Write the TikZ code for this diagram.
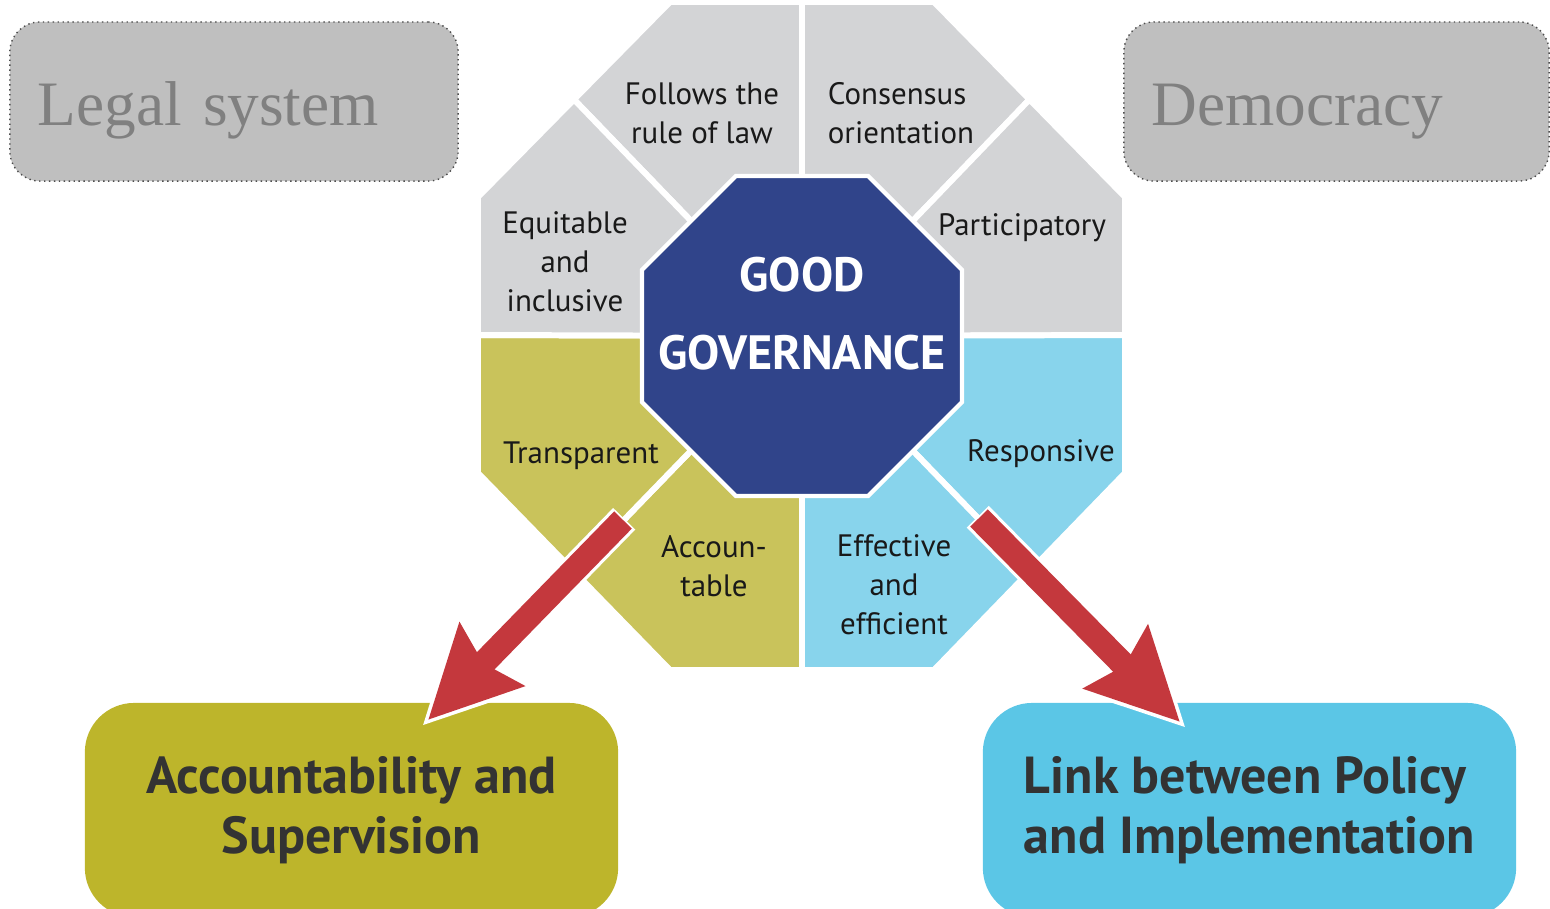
\documentclass[tikz,border=0pt]{standalone}
\usepackage{fontspec}
\setmainfont{Liberation Serif}
\setsansfont{PT Sans}
\usetikzlibrary{arrows.meta,shapes.geometric,positioning}
\definecolor{grey1}{HTML}{D3D4D6}
\definecolor{olive1}{HTML}{C9C35B}
\definecolor{sky1}{HTML}{88D4EC}
\definecolor{navy1}{HTML}{30448A}
\definecolor{olive2}{HTML}{BDB52B}
\definecolor{sky2}{HTML}{5BC6E6}
\definecolor{red1}{HTML}{C4383D}
\definecolor{boxgrey}{HTML}{BFBFBF}
\definecolor{textgrey}{HTML}{808080}
\definecolor{dark1}{HTML}{333333}
\begin{document}
\begin{tikzpicture}
[x=0.01cm, y=-0.01cm,
slice/.style={draw=white, line width=1.7pt, line join=round},
seclabel/.style={font=\sffamily\fontsize{8.8}{11.1}\selectfont, text=black!90,
align=center, inner sep=0},
core/.style={regular polygon, regular polygon sides=8, minimum size=3.46cm,
fill=navy1, draw=white, line width=1.2pt, inner sep=0},
corelabel/.style={font=\sffamily\bfseries\fontsize{13.7}{22.2}\selectfont,
text=white, align=center, inner sep=0},
field/.style={rounded corners=8.5pt, fill=boxgrey, draw=black!70, densely dotted,
line width=0.4pt, minimum height=1.59cm, inner xsep=0.28cm, align=left,
text height=17.3pt, text depth=3.9pt,
font=\rmfamily\fontsize{18}{21}\selectfont, text=textgrey},
goal/.style={rounded corners=14pt, minimum width=5.33cm, minimum height=2.14cm,
font=\sffamily\bfseries\fontsize{14.8}{17}\selectfont, text=dark1},
bigarrow/.style={line width=7pt, red1, -{Stealth[length=25.6pt, width=24.8pt, inset=3.1pt]}},
bigarrowedge/.style={line width=8.8pt, white, shorten >=-2.2pt, shorten <=-0.5pt,
-{Stealth[length=30pt, width=29.5pt, inset=3.6pt]}}]
\useasboundingbox (0,0) rectangle (1550,908);
\clip (0,0) rectangle (1550,908);
%\fill[white] (0,0) rectangle (1550,908);
\coordinate (c)  at (802,336);
\coordinate (o1) at (670,2);     \coordinate (m1) at (802,2);
\coordinate (o2) at (934,2);     \coordinate (m2) at (1029.5,99.5);
\coordinate (o3) at (1125,197);  \coordinate (m3) at (1125,335);
\coordinate (o4) at (1125,473);  \coordinate (m4) at (1029.5,571.5);
\coordinate (o5) at (934,670);   \coordinate (m5) at (802,670);
\coordinate (o6) at (670,670);   \coordinate (m6) at (574,571.5);
\coordinate (o7) at (478,473);   \coordinate (m7) at (478,335);
\coordinate (o8) at (478,197);   \coordinate (m8) at (574,99.5);

\path [slice, fill=grey1]  (c) -- (m8) -- (o1) -- (m1) -- cycle;
\path [slice, fill=grey1]  (c) -- (m1) -- (o2) -- (m2) -- cycle;
\path [slice, fill=grey1]  (c) -- (m2) -- (o3) -- (m3) -- cycle;
\path [slice, fill=sky1]   (c) -- (m3) -- (o4) -- (m4) -- cycle;
\path [slice, fill=sky1]   (c) -- (m4) -- (o5) -- (m5) -- cycle;
\path [slice, fill=olive1] (c) -- (m5) -- (o6) -- (m6) -- cycle;
\path [slice, fill=olive1] (c) -- (m6) -- (o7) -- (m7) -- cycle;
\path [slice, fill=grey1]  (c) -- (m7) -- (o8) -- (m8) -- cycle;

\node [seclabel]             (rule)    at (702,113)     {Follows the\\rule of law};
\node [seclabel, align=left] (cons)    at (901,113)     {Consensus\\orientation};
\node [seclabel]             (part)    at (1022,228)    {Participatory};
\node [seclabel]             (equi)    at (565,262)     {Equitable\\and\\inclusive};
\node [seclabel]             (transp)  at (581,456)     {Transparent};
\node [seclabel]             (resp)    at (1041,454)    {Responsive};
\node [seclabel]             (acct)    at (714,566)     {Accoun-\\table};
\node [seclabel]             (eff)     at (894,585)     {Effective\\and\\efficient};

\node [core]                 (gg)      at (c)           {};
\node [corelabel]            (ggtext)  at (802,314)     {GOOD\\GOVERNANCE};

\node [field, text width=3.92cm, minimum width=4.48cm]  (legal) at (234,101.5)  {Legal system};
\node [field, text width=3.69cm, minimum width=4.25cm]  (demo)  at (1336.5,101.5) {Democracy};

\node [goal, fill=olive2, align=center]  (acc)   at (351.5,810)  {Accountability and\\Supervision};
\node [goal, fill=sky2, align=left]      (link)  at (1249.5,810) {Link between Policy\\and Implementation};

\coordinate (accTail)  at (623,520);
\coordinate (accTip)   at (428,720);
\coordinate (linkTail) at (979,518);
\coordinate (linkTip)  at (1180,722);

\draw [bigarrowedge] (accTail) -- (accTip);
\draw [bigarrow]     (accTail) -- (accTip);
\draw [bigarrowedge] (linkTail) -- (linkTip);
\draw [bigarrow]     (linkTail) -- (linkTip);

\end{tikzpicture}
\end{document}
